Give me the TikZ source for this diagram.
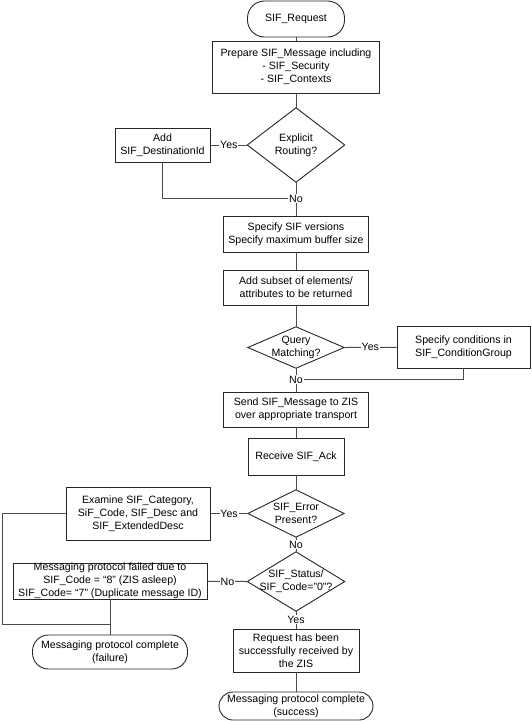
\documentclass[tikz,border=0pt]{standalone}
\usepackage{fontspec}
\setmainfont{Liberation Sans}
\begin{document}
\begin{tikzpicture}[x=1pt,y=-1pt,
  font=\fontsize{10.6}{13}\selectfont,
  box/.style={draw=black!85, line width=0.9pt, align=center, inner sep=0pt},
  term/.style={box, rounded corners=#1},
  dia/.style={align=center, inner sep=0pt},
  diaedge/.style={draw=black!85, line width=0.9pt},
  conn/.style={draw=black!70, line width=1pt},
  lbl/.style={fill=white, inner sep=0.8pt}]
\useasboundingbox (0,0) rectangle (532,721);

\node[term=17pt, minimum width=97pt, minimum height=36pt] (start) at (296,19) {SIF\_Request};
\node[box, minimum width=167pt, minimum height=52pt] (prep) at (296,67) {Prepare SIF\_Message including\\- SIF\_Security\\- SIF\_Contexts};
\node[dia, minimum width=97pt, minimum height=74pt] (d1) at (296,145) {Explicit\\Routing?};
\node[box, minimum width=95pt, minimum height=34pt] (dest) at (162.5,145) {Add\\SIF\_DestinationId};
\node[box, minimum width=145pt, minimum height=36pt] (ver) at (296,234) {Specify SIF versions\\Specify maximum buffer size};
\node[box, minimum width=145pt, minimum height=35pt] (sub) at (296,287.5) {Add subset of elements/\\attributes to be returned};
\node[dia, minimum width=96pt, minimum height=41pt] (d2) at (296,347.5) {Query\\Matching?};
\node[box, minimum width=133pt, minimum height=42pt] (cond) at (463.5,347) {Specify conditions in\\SIF\_ConditionGroup};
\node[box, minimum width=145pt, minimum height=35pt] (send) at (296,409.5) {Send SIF\_Message to ZIS\\over appropriate transport};
\node[box, minimum width=96pt, minimum height=37pt] (ack) at (296,456.5) {Receive SIF\_Ack};
\node[dia, minimum width=96pt, minimum height=47pt] (d3) at (296,513.5) {SIF\_Error\\Present?};
\node[box, minimum width=144pt, minimum height=53pt] (exam) at (138,513.5) {Examine SIF\_Category,\\SiF\_Code, SIF\_Desc and\\SIF\_ExtendedDesc};
\node[dia, minimum width=97pt, minimum height=59pt] (d4) at (296,581.5) {SIF\_Status/\\SIF\_Code="0"?};
\node[box, minimum width=194pt, minimum height=36pt] (fail) at (110,581) {Messaging protocol failed due to\\SIF\_Code = “8” (ZIS asleep)\\SIF\_Code= “7” (Duplicate message ID)};
\node[term=16pt, minimum width=155pt, minimum height=34pt] (failend) at (110,652) {Messaging protocol complete\\(failure)};
\node[box, minimum width=126pt, minimum height=43pt] (req) at (296,650.5) {Request has been\\successfully received by\\the ZIS};
\node[term=14pt, minimum width=154pt, minimum height=28pt] (okend) at (296,706) {Messaging protocol complete\\(success)};

\foreach \n in {d1,d2,d3,d4}
  \draw[diaedge] (\n.north) -- (\n.east) -- (\n.south) -- (\n.west) -- cycle;

\draw[conn] (start) -- (prep);
\draw[conn] (prep) -- (d1.north);
\draw[conn] (d1.west) -- node[lbl]{Yes} (dest);
\draw[conn] (d1.south) -- node[lbl] (no1) {No} (ver);
\draw[conn] (dest.south) |- (no1.west);
\draw[conn] (ver) -- (sub);
\draw[conn] (sub) -- (d2.north);
\draw[conn] (d2.east) -- node[lbl]{Yes} (cond);
\draw[conn] (d2.south) -- node[lbl] (no2) {No} (send);
\draw[conn] (cond.south) |- (no2.east);
\draw[conn] (send) -- (ack);
\draw[conn] (ack) -- (d3.north);
\draw[conn] (d3.west) -- node[lbl]{Yes} (exam);
\draw[conn] (d3.south) -- node[lbl]{No} (d4.north);
\draw[conn] (d4.west) -- node[lbl]{No} (fail);
\draw[conn] (d4.south) -- node[lbl]{Yes} (req);
\draw[conn] (req) -- (okend);
\draw[conn] (fail) -- (failend);
\coordinate (lc) at (2,624);
\coordinate (j) at (110,624);
\draw[conn] (exam.west) -| (lc) -- (j);
\end{tikzpicture}
\end{document}
